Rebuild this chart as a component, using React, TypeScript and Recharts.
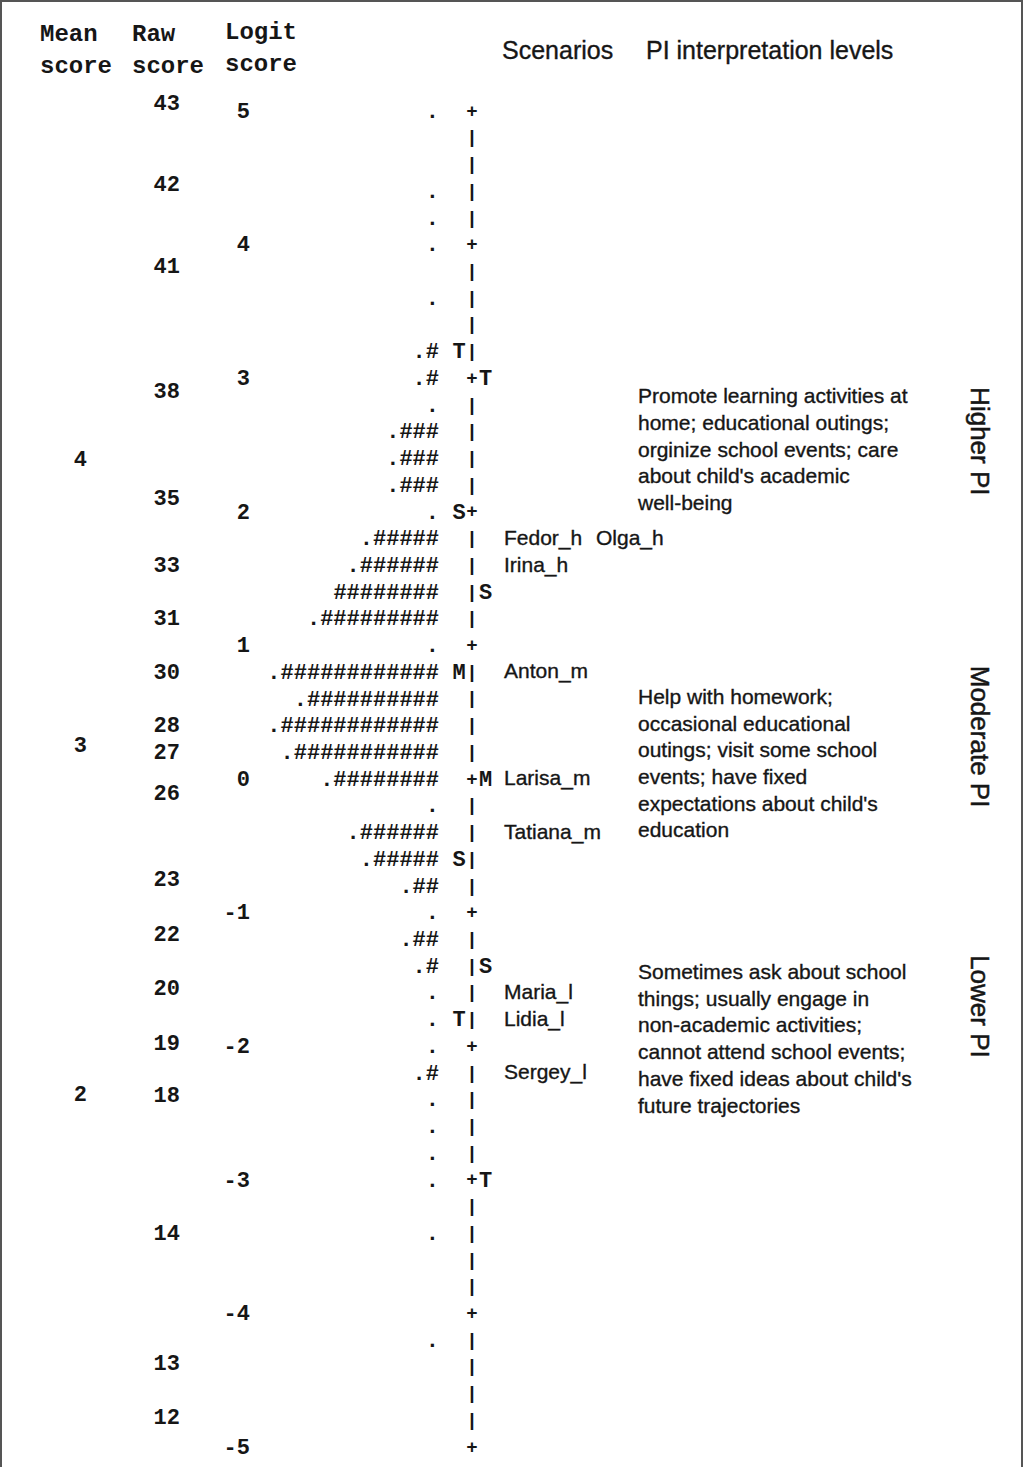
import React from 'react';
import { ScatterChart, Scatter, XAxis, YAxis } from 'recharts';

// ---------- DATA ----------
const logitTicks = [5, 4, 3, 2, 1, 0, -1, -2, -3, -4, -5];

const rawScores = ['43', '42', '41', '38', '35', '33', '31', '30', '28', '27', '26', '23', '22', '20', '19', '18', '14', '13', '12'];
const rawScoreLogits = [5.06, 4.45, 3.84, 2.9, 2.1, 1.6, 1.2, 0.8, 0.4, 0.2, -0.11, -0.75, -1.16, -1.57, -1.98, -2.37, -3.4, -4.37, -4.78];

const meanScores = ['4', '3', '2'];
const meanScoreLogits = [2.39, 0.25, -2.36];

const personLogits = [
  5.0, 4.8, 4.6, 4.4, 4.2, 4.0, 3.8, 3.6, 3.4, 3.2,
  3.0, 2.8, 2.6, 2.4, 2.2, 2.0, 1.8, 1.6, 1.4, 1.2,
  1.0, 0.8, 0.6, 0.4, 0.2, 0.0, -0.2, -0.4, -0.6, -0.8,
  -1.0, -1.2, -1.4, -1.6, -1.8, -2.0, -2.2, -2.4, -2.6, -2.8,
  -3.0, -3.2, -3.4, -3.6, -3.8, -4.0, -4.2, -4.4, -4.6, -4.8,
  -5.0,
];
const personMarks = [
  '.', '', '', '.', '.', '.', '', '.', '', '.#',
  '.#', '.', '.###', '.###', '.###', '.', '.#####', '.######', '########', '.#########',
  '.', '.############', '.##########', '.############', '.###########', '.########', '.', '.######', '.#####', '.##',
  '.', '.##', '.#', '.', '.', '.', '.#', '.', '.', '.',
  '.', '', '.', '', '', '', '.', '', '', '',
  '',
];

const markerLogits = [3.2, 3.0, 2.0, 1.4, 0.8, 0.0, -0.6, -1.4, -1.8, -3.0];
const markerLabels = ['T', 'T', 'S', 'S', 'M', 'M', 'S', 'S', 'T', 'T'];
const markerGroups = ['persons', 'items', 'persons', 'items', 'persons', 'items', 'persons', 'items', 'persons', 'items'];

const scenarioNames = ['Fedor_h', 'Olga_h', 'Irina_h', 'Anton_m', 'Larisa_m', 'Tatiana_m', 'Maria_l', 'Lidia_l', 'Sergey_l'];
const scenarioLogits = [1.8, 1.8, 1.6, 0.8, 0.0, -0.4, -1.6, -1.8, -2.2];

const levelNames = ['Higher PI', 'Moderate PI', 'Lower PI'];
const levelLogits = [2.52, 0.31, -1.71];
const descriptionLogits = [2.86, 0.61, -1.45];
const levelDescriptions = [
  ['Promote learning activities at', 'home; educational outings;', 'orginize school events; care', "about child's academic", 'well-being'],
  ['Help with homework;', 'occasional educational', 'outings; visit some school', 'events; have fixed', "expectations about child's", 'education'],
  ['Sometimes ask about school', 'things; usually engage in', 'non-academic activities;', 'cannot attend school events;', "have fixed ideas about child's", 'future trajectories'],
];

// ---------- LAYOUT ----------
const W = 1023;
const H = 1467;
const MEAN_W = 87;
const RAW_W = 93;
const LOGIT_W = 70;
const PLOT_W = W - MEAN_W - RAW_W - LOGIT_W;
const COL = {
  persons: 189,
  leftMarker: 209,
  axis: 222,
  rightMarker: 235.5,
  names: 254,
  desc: 388,
  level: 730,
};
const NAME_GAP = 92;
const LINE_H = 26.7;
const MONO = '"Liberation Mono", "Courier New", monospace';
const SANS = '"Liberation Sans", Arial, sans-serif';
const INK = '#161616';

// ---------- derived tables ----------
const personData = personLogits.map((y, i) => ({ x: COL.persons, y, text: personMarks[i] }));
const axisData = personLogits.map((y) => ({ x: COL.axis, y, text: Math.abs(y - Math.round(y)) < 1e-6 ? '+' : '|' }));
const markerData = markerLogits.map((y, i) => ({
  x: markerGroups[i] === 'persons' ? COL.leftMarker : COL.rightMarker,
  y,
  text: markerLabels[i],
}));
const scenarioData = scenarioNames.map((name, i) => {
  const before = scenarioLogits.slice(0, i).filter((v) => v === scenarioLogits[i]).length;
  return { x: COL.names + before * NAME_GAP, y: scenarioLogits[i], text: name };
});
const descData = levelDescriptions.map((lines, i) => ({ x: COL.desc, y: descriptionLogits[i], lines }));
const levelData = levelNames.map((name, i) => ({ x: COL.level, y: levelLogits[i], text: name }));

const findLabel = (v: number, logits: number[], labels: string[]) => {
  const idx = logits.findIndex((l) => Math.abs(l - v) < 1e-6);
  return idx >= 0 ? labels[idx] : '';
};

const MonoTick = (props: any) => {
  const { x, y, payload, labels, logits } = props;
  const txt = labels ? findLabel(payload.value, logits, labels) : String(payload.value);
  return (
    <text x={x} y={y} dy="0.35em" textAnchor="end" fontFamily={MONO} fontWeight={700} fontSize={22} fill={INK}>
      {txt}
    </text>
  );
};

const monoShape = (anchor: 'start' | 'middle' | 'end', size = 22) => (p: any) => {
  const t = p.payload?.text;
  if (!t) return <g />;
  return (
    <text x={p.cx} y={p.cy} dy="0.35em" textAnchor={anchor} fontFamily={MONO} fontWeight={700} fontSize={size} fill={INK}>
      {t}
    </text>
  );
};

const SANS_STROKE = { stroke: INK, strokeWidth: 0.35 };

const nameShape = (p: any) => (
  <text x={p.cx} y={p.cy} dy="0.35em" textAnchor="start" fontFamily={SANS} fontSize={21} fill={INK} {...SANS_STROKE}>
    {p.payload.text}
  </text>
);

const descShape = (p: any) => (
  <text x={p.cx} y={p.cy} textAnchor="start" fontFamily={SANS} fontSize={21} fill={INK} {...SANS_STROKE}>
    {p.payload.lines.map((l: string, i: number) => (
      <tspan key={i} x={p.cx} dy={i === 0 ? '0.35em' : LINE_H}>
        {l}
      </tspan>
    ))}
  </text>
);

const levelShape = (p: any) => (
  <text
    x={p.cx}
    y={p.cy}
    dy="0.35em"
    textAnchor="middle"
    fontFamily={SANS}
    fontSize={26}
    fill={INK}
    stroke={INK}
    strokeWidth={0.5}
    transform={`rotate(90, ${p.cx}, ${p.cy})`}
  >
    {p.payload.text}
  </text>
);

const Header = () => (
  <svg width={W} height={110} style={{ position: 'absolute', left: 0, top: 0 }}>
    <g fontFamily={MONO} fontWeight={700} fontSize={24} fill={INK}>
      <text x={40} y={33} dy="0.35em">Mean</text>
      <text x={40} y={65} dy="0.35em">score</text>
      <text x={132} y={33} dy="0.35em">Raw</text>
      <text x={132} y={65} dy="0.35em">score</text>
      <text x={225} y={31} dy="0.35em">Logit</text>
      <text x={225} y={63} dy="0.35em">score</text>
    </g>
    <g fontFamily={SANS} fontSize={25} fill={INK} stroke={INK} strokeWidth={0.35}>
      <text x={502} y={50} dy="0.35em">Scenarios</text>
      <text x={646} y={50} dy="0.35em">PI interpretation levels</text>
    </g>
  </svg>
);

export default function App() {
  return (
    <div
      style={{
        position: 'absolute',
        left: 0,
        top: 0,
        width: W,
        height: H,
        background: '#fff',
        overflow: 'hidden',
      }}
    >
      <ScatterChart width={W} height={H} margin={{ top: 110, right: 0, bottom: 21, left: 0 }}>
        <XAxis type="number" dataKey="x" domain={[0, PLOT_W]} hide />
        <YAxis
          yAxisId="a_logit"
          type="number"
          dataKey="y"
          domain={[-5, 5]}
          ticks={logitTicks}
          interval={0}
          width={LOGIT_W}
          axisLine={false}
          tickLine={false}
          tickSize={0}
          tickMargin={0}
          tick={<MonoTick />}
        />
        <YAxis
          yAxisId="b_raw"
          type="number"
          dataKey="y"
          domain={[-5, 5]}
          allowDataOverflow
          ticks={rawScoreLogits}
          interval={0}
          width={RAW_W}
          axisLine={false}
          tickLine={false}
          tickSize={0}
          tickMargin={0}
          tick={<MonoTick labels={rawScores} logits={rawScoreLogits} />}
        />
        <YAxis
          yAxisId="c_mean"
          type="number"
          dataKey="y"
          domain={[-5, 5]}
          allowDataOverflow
          ticks={meanScoreLogits}
          interval={0}
          width={MEAN_W}
          axisLine={false}
          tickLine={false}
          tickSize={0}
          tickMargin={0}
          tick={<MonoTick labels={meanScores} logits={meanScoreLogits} />}
        />
        <Scatter yAxisId="b_raw" data={rawScoreLogits.map((y) => ({ x: 0, y }))} shape={() => <g />} isAnimationActive={false} />
        <Scatter yAxisId="c_mean" data={meanScoreLogits.map((y) => ({ x: 0, y }))} shape={() => <g />} isAnimationActive={false} />
        <Scatter yAxisId="a_logit" data={personData} shape={monoShape('end')} isAnimationActive={false} />
        <Scatter yAxisId="a_logit" data={axisData} shape={monoShape('middle', 19)} isAnimationActive={false} />
        <Scatter yAxisId="a_logit" data={markerData} shape={monoShape('middle')} isAnimationActive={false} />
        <Scatter yAxisId="a_logit" data={scenarioData} shape={nameShape} isAnimationActive={false} />
        <Scatter yAxisId="a_logit" data={descData} shape={descShape} isAnimationActive={false} />
        <Scatter yAxisId="a_logit" data={levelData} shape={levelShape} isAnimationActive={false} />
      </ScatterChart>
      <Header />
      <div
        style={{
          position: 'absolute',
          left: 0,
          top: 0,
          width: W,
          height: H,
          boxSizing: 'border-box',
          borderLeft: '2px solid #555',
          borderTop: '2px solid #555',
          borderRight: '2px solid #555',
          pointerEvents: 'none',
        }}
      />
    </div>
  );
}
